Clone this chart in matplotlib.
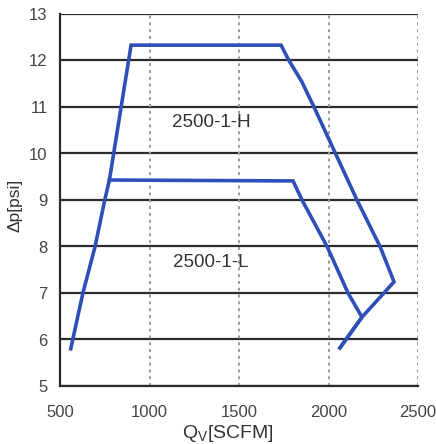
import matplotlib.pyplot as plt
import numpy as np

# curve 2500-1-H
h_q = [560, 628, 696, 750, 776, 897, 1735, 1779, 1850, 1919, 2159, 2288, 2366, 2187, 2064]
h_dp = [5.8, 7.0, 8.0, 9.0, 9.43, 12.33, 12.33, 12.0, 11.55, 11.0, 9.0, 8.0, 7.24, 6.48, 5.82]

# curve 2500-1-L
l_q = [776, 1802, 1852, 1992, 2109, 2187, 2064]
l_dp = [9.43, 9.41, 9.0, 8.0, 7.0, 6.48, 5.82]

x_ticks = [500, 1000, 1500, 2000, 2500]
y_ticks = [5, 6, 7, 8, 9, 10, 11, 12, 13]

plt.rcParams['font.family'] = ['Liberation Sans Narrow', 'Liberation Sans', 'DejaVu Sans']

fig = plt.figure(figsize=(4.36, 4.44), dpi=100)
ax = fig.add_axes([60 / 436, 1 - 386 / 444, 358 / 436, 372 / 444])

for y in y_ticks:
    ax.axhline(y, color='#2b2b2b', lw=1.6, zorder=1)
for x in x_ticks[1:]:
    ax.axvline(x, color='#999999', lw=1.4, ls=(0, (1.5, 2)), zorder=1)

ax.plot(h_q, h_dp, color='#2f4fb8', lw=2.6, solid_joinstyle='miter', zorder=3)
ax.plot(l_q, l_dp, color='#2f4fb8', lw=2.6, solid_joinstyle='miter', zorder=3)

ax.text(1344, 10.66, '2500-1-H', fontsize=13.5, family=['Liberation Sans', 'DejaVu Sans'],
        color='#333333', ha='center', va='center')
ax.text(1344, 7.65, '2500-1-L', fontsize=13.5, family=['Liberation Sans', 'DejaVu Sans'],
        color='#333333', ha='center', va='center')

ax.set_xlim(500, 2500)
ax.set_ylim(5, 13)
ax.set_xticks(x_ticks)
ax.set_yticks(y_ticks)
ax.tick_params(length=0, labelsize=12, colors='#444444')
ax.tick_params(axis='x', pad=14)
ax.tick_params(axis='y', pad=9)

for s in ['top', 'right']:
    ax.spines[s].set_visible(False)
for s in ['left', 'bottom']:
    ax.spines[s].set_color('#2b2b2b')
    ax.spines[s].set_linewidth(1.6)

ax.set_xlabel('Q$_\\mathregular{V}$[SCFM]', fontsize=14, family=['Liberation Sans', 'DejaVu Sans'],
              color='#333333')
ax.xaxis.set_label_coords((228 - 60) / 358, -(433 - 386) / 372)
ax.xaxis.label.set_va('center')
ax.set_ylabel('Δp[psi]', fontsize=12.5, family=['Liberation Sans', 'DejaVu Sans'],
              color='#333333')
ax.yaxis.set_label_coords(-(60 - 15) / 358, (386 - 205) / 372)
ax.yaxis.label.set_va('center')

fig.savefig('out.png', dpi=100)
